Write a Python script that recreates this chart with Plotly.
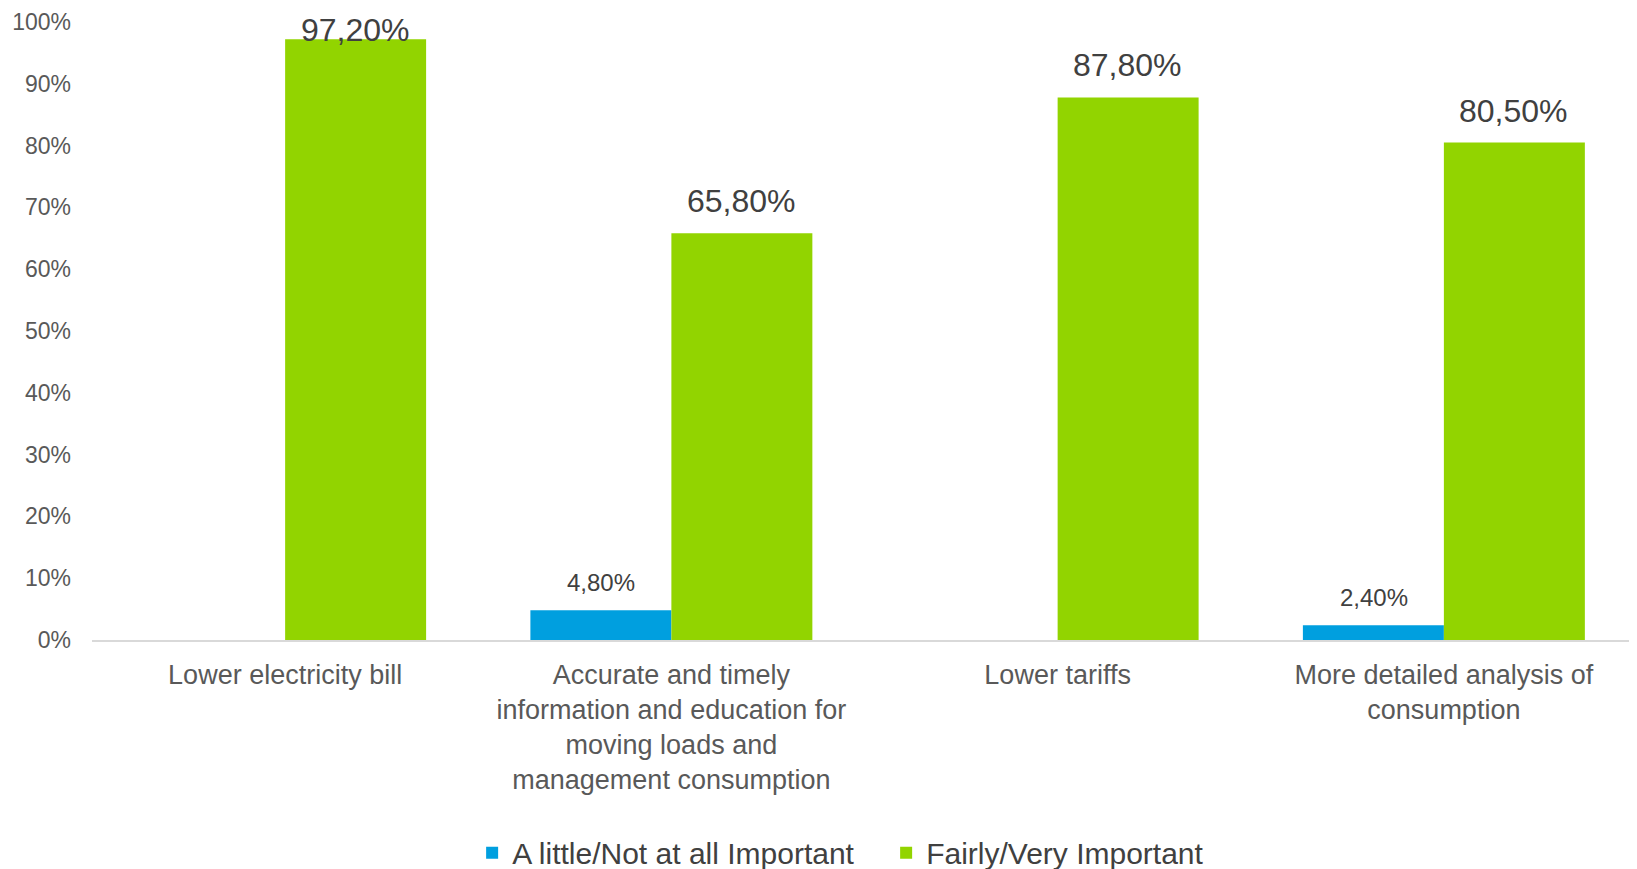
import plotly.graph_objects as go

categories = [
    "Lower electricity bill",
    "Accurate and timely<br>information and education for<br>moving loads and<br>management consumption",
    "Lower tariffs",
    "More detailed analysis of<br>consumption",
]
little_important = [None, 0.048, None, 0.024]
very_important = [0.972, 0.658, 0.878, 0.805]
tick_vals = [0, 0.1, 0.2, 0.3, 0.4, 0.5, 0.6, 0.7, 0.8, 0.9, 1.0]
tick_text = ["0%", "10%", "20%", "30%", "40%", "50%", "60%", "70%", "80%", "90%", "100%"]

BLUE = "#009FDF"
GREEN = "#92D400"
FONT = "Liberation Sans, Arial, sans-serif"


def pct(v):
    return f"{v * 100:.2f}%".replace(".", ",")


fig = go.Figure()

fig.add_trace(go.Bar(
    x=categories,
    y=little_important,
    name="A little/Not at all Important",
    marker=dict(color=BLUE, line=dict(width=0)),
))

fig.add_trace(go.Bar(
    x=categories,
    y=very_important,
    name="Fairly/Very Important",
    marker=dict(color=GREEN, line=dict(width=0)),
))

# data labels, Excel-style: above the bar, clamped at the top of the plot
annotations = []
series = [(little_important, -70, 24), (very_important, 70, 32)]
for values, xshift, size in series:
    for cat, v in zip(categories, values):
        if v is None:
            continue
        top = v > 0.93
        annotations.append(dict(
            x=cat, y=1.0 if top else v, xref="x", yref="y",
            text=pct(v), showarrow=False,
            xshift=xshift, yshift=12,
            yanchor="top" if top else "bottom",
            font=dict(family=FONT, size=size, color="#404040"),
        ))

fig.update_layout(
    width=1637,
    height=869,
    barmode="group",
    bargap=0.27,
    bargroupgap=0,
    plot_bgcolor="white",
    paper_bgcolor="white",
    font=dict(family=FONT, color="#595959"),
    margin=dict(l=84, r=8, t=14, b=237, autoexpand=False),
    showlegend=True,
    legend=dict(
        orientation="h",
        x=0.514, xanchor="center",
        yref="container", y=0.028, yanchor="middle",
        font=dict(family=FONT, size=30, color="#404040"),
        itemwidth=30,
        entrywidth=369,
        tracegroupgap=0,
    ),
    annotations=annotations,
)

fig.update_xaxes(
    automargin=False,
    showline=True,
    linecolor="#D9D9D9",
    linewidth=1.5,
    ticks="",
    tickfont=dict(family=FONT, size=27, color="#595959"),
    ticklabelstandoff=10,
)

fig.update_yaxes(
    automargin=False,
    range=[0, 1],
    tickvals=tick_vals,
    ticktext=tick_text,
    showgrid=False,
    zeroline=False,
    showline=False,
    ticks="",
    tickfont=dict(family=FONT, size=23, color="#595959"),
    ticklabelstandoff=20,
)

fig.write_html("out.html")
